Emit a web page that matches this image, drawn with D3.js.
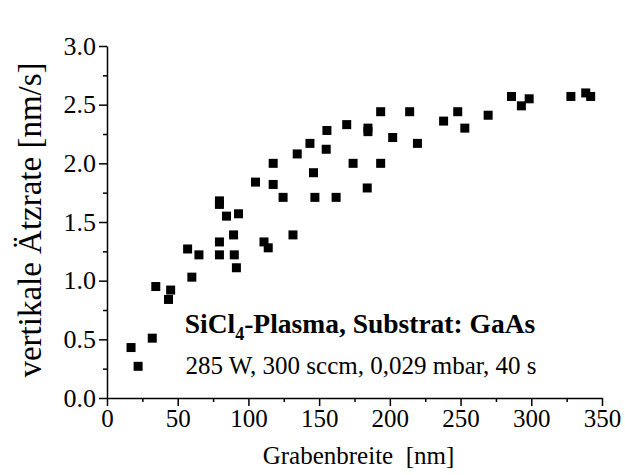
<!DOCTYPE html>
<html>
<head>
<meta charset="utf-8">
<script src="https://cdn.jsdelivr.net/npm/d3@7"></script>
<style>
  body { margin: 0; background: #fff; }
  text { font-family: "Liberation Serif", "Times New Roman", serif; fill: #000; }
</style>
</head>
<body>
<script>
// Grabenbreite [nm]
const width = [17, 22, 32, 34.5, 45, 43.5, 57, 60, 65, 79.5, 79.5, 84.5, 93, 79.5, 79.5, 89.5, 90, 91.5,
  105, 111, 114, 117.5, 117.5, 124.5, 134.5, 131.5, 143.5, 146, 147, 155, 155.5, 162, 169.5, 174,
  184.5, 184.5, 184, 193.5, 193.5, 202, 214, 219.5, 238, 248, 253, 269.5, 286, 293, 298.5, 328, 338.5, 342];
// vertikale Ätzrate [nm/s]
const rate = [0.43, 0.27, 0.51, 0.95, 0.92, 0.84, 1.27, 1.03, 1.22, 1.68, 1.65, 1.55, 1.57, 1.33, 1.22, 1.39, 1.22, 1.11,
  1.84, 1.33, 1.28, 2.0, 1.82, 1.71, 2.08, 1.39, 2.17, 1.92, 1.71, 2.12, 2.28, 1.71, 2.33, 2.0,
  2.30, 2.27, 1.79, 2.44, 2.0, 2.22, 2.44, 2.17, 2.36, 2.44, 2.30, 2.41, 2.57, 2.49, 2.55, 2.57, 2.60, 2.57];

const xTicks = [0, 50, 100, 150, 200, 250, 300, 350];
const yTicks = [0.0, 0.5, 1.0, 1.5, 2.0, 2.5, 3.0];

const svgWidth = 625, svgHeight = 475;
const margin = { top: 46, right: 23, bottom: 77, left: 107 };
const chartWidth = svgWidth - margin.left - margin.right;
const chartHeight = svgHeight - margin.top - margin.bottom;

const svg = d3.select("body").append("svg")
  .attr("width", svgWidth)
  .attr("height", svgHeight);

const g = svg.append("g")
  .attr("transform", `translate(${margin.left},${margin.top})`);

const x = d3.scaleLinear().domain([0, 350]).range([0, chartWidth]);
const y = d3.scaleLinear().domain([0, 3]).range([chartHeight, 0]);

// minor ticks
g.append("g")
  .attr("transform", `translate(0,${chartHeight})`)
  .call(d3.axisBottom(x).tickValues(d3.range(25, 350, 50)).tickSize(4).tickFormat(""))
  .call(a => a.select(".domain").remove());
g.append("g")
  .call(d3.axisLeft(y).tickValues(d3.range(0.25, 3, 0.5)).tickSize(4).tickFormat(""))
  .call(a => a.select(".domain").remove());

// x axis
g.append("g")
  .attr("class", "axis-x")
  .attr("transform", `translate(0,${chartHeight})`)
  .call(d3.axisBottom(x).tickValues(xTicks).tickSize(8).tickSizeOuter(0).tickPadding(3).tickFormat(d3.format("d")))
  .attr("font-family", "Liberation Serif")
  .attr("font-size", 25);

// y axis
g.append("g")
  .attr("class", "axis-y")
  .call(d3.axisLeft(y).tickValues(yTicks).tickSize(8).tickSizeOuter(0).tickPadding(3).tickFormat(d3.format(".1f")))
  .attr("font-family", "Liberation Serif")
  .attr("font-size", 26);

g.selectAll(".domain, .tick line").attr("stroke", "#000").attr("stroke-width", 1.5);

// points
const size = 9;
g.selectAll(".pt")
  .data(width.map((w, i) => [w, rate[i]]))
  .enter().append("rect")
  .attr("class", "pt")
  .attr("x", d => x(d[0]) - size / 2)
  .attr("y", d => y(d[1]) - size / 2)
  .attr("width", size)
  .attr("height", size)
  .attr("fill", "#000");

// annotation
const t1 = g.append("text")
  .attr("x", 253)
  .attr("y", y(0.55))
  .attr("text-anchor", "middle")
  .style("font-size", "27.5px")
  .style("font-weight", "bold");
t1.append("tspan").text("SiCl");
t1.append("tspan").attr("dy", 7).style("font-size", "18px").text("4");
t1.append("tspan").attr("dy", -7).text("-Plasma, Substrat: GaAs");

g.append("text")
  .attr("x", 254)
  .attr("y", y(0.2) - 1)
  .attr("text-anchor", "middle")
  .style("font-size", "25px")
  .text("285 W, 300 sccm, 0,029 mbar, 40 s");

// axis titles
svg.append("text")
  .attr("x", margin.left + chartWidth / 2 + 4)
  .attr("y", svgHeight - 11)
  .attr("text-anchor", "middle")
  .style("font-size", "25px")
  .style("white-space", "pre")
  .text("Grabenbreite  [nm]");

svg.append("text")
  .attr("transform", "rotate(-90)")
  .attr("x", -220)
  .attr("y", 41)
  .attr("text-anchor", "middle")
  .style("font-size", "33px")
  .text("vertikale Ätzrate [nm/s]");
</script>
</body>
</html>
